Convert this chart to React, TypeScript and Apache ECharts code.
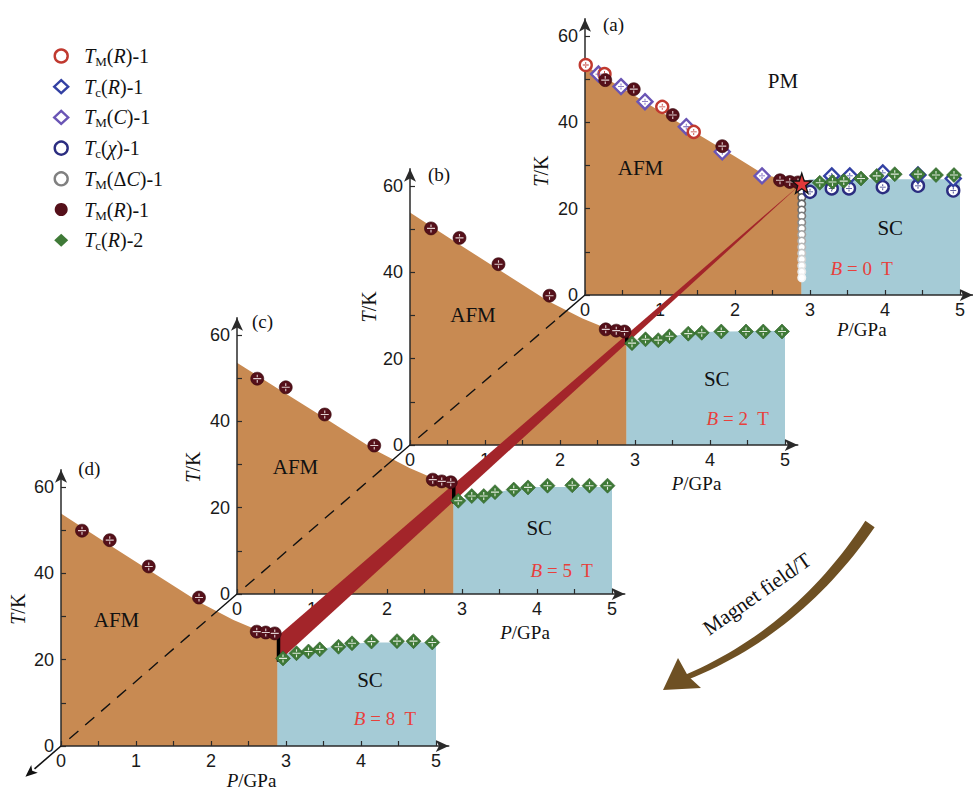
import React, { useEffect, useRef } from 'react';
import * as echarts from 'echarts';

// ---------------- axis ticks ----------------
const xTickValues = [0, 0.5, 1, 1.5, 2, 2.5, 3, 3.5, 4, 4.5, 5];
const xLabelValues = [0, 1, 2, 3, 4, 5];
const yTickValues = [0, 10, 20, 30, 40, 50, 60];
const yLabelValues = [0, 20, 40, 60];

const panelTags = ['(a)', '(b)', '(c)', '(d)'];
const fieldValues = [0, 2, 5, 8];

// ---------------- phase regions ----------------
const afmA = [[0, 53.2], [0.5, 47.9], [1, 42.6], [1.5, 37.3], [2, 32.1], [2.36, 28.2], [2.6, 26.9], [2.89, 25.9]];
const afmB = [[0, 53.9], [0.6, 47.1], [1.17, 40.8], [1.84, 33.4], [2.3, 29.3], [2.61, 27.1], [2.89, 26.2]];
const afmC = [[0, 53.6], [0.6, 47.0], [1.17, 40.8], [1.84, 33.4], [2.3, 29.2], [2.61, 26.9], [2.89, 25.8]];
const afmD = [[0, 53.9], [0.6, 47.1], [1.17, 40.8], [1.84, 33.4], [2.3, 29.2], [2.61, 26.9], [2.89, 25.4]];

const scA = [[2.885, 26.2], [3.0, 26.8], [5, 26.8]];
const scB = [[2.885, 23.5], [3.1, 24.2], [3.5, 25.2], [3.8, 26.2], [5, 26.5]];
const scC = [[2.885, 21.5], [3.0, 22.0], [3.4, 23.2], [3.64, 24.2], [3.9, 24.8], [5, 24.8]];
const scD = [[2.885, 21.0], [3.1, 21.8], [3.5, 22.6], [3.8, 23.5], [4.1, 24.0], [5, 24.0]];

// ---------------- panel (a) data, B = 0 T ----------------
const tmROpenA = [[0.01, 53.3], [0.26, 51.2], [1.03, 43.6], [1.45, 37.8]];
const tcRA = [[3.29, 27.6], [3.53, 27.6], [3.97, 28.3], [4.44, 27.8], [4.91, 27.0]];
const tmCA = [[0.18, 51.2], [0.48, 48.3], [0.8, 44.8], [1.35, 39.0], [1.83, 33.2], [2.36, 27.6]];
const tcChiA = [[3.0, 23.9], [3.29, 24.7], [3.52, 24.7], [3.97, 25.0], [4.44, 25.3], [4.91, 24.2]];
const tmDCA = [[2.89, 24.0], [2.89, 22.6], [2.89, 21.1], [2.89, 19.7], [2.89, 18.3], [2.89, 16.8], [2.89, 15.4],
  [2.89, 14.0], [2.89, 12.5], [2.89, 11.1], [2.89, 9.7], [2.89, 8.3], [2.89, 6.8], [2.89, 5.4], [2.89, 4.0]];
const tmRFilledA = [[0.27, 49.8], [0.65, 47.7], [1.17, 41.7], [1.83, 34.5], [2.6, 26.6], [2.73, 26.2], [2.84, 26.1]];
const tcR2A = [[3.13, 26.0], [3.3, 26.2], [3.45, 26.4], [3.68, 27.0], [3.89, 27.6], [4.13, 28.0], [4.44, 28.0], [4.68, 27.8], [4.92, 27.8]];
const starA = [[2.89, 25.9]];

// ---------------- panels (b)-(d) ----------------
const tmRFilledB = [[0.28, 50.2], [0.66, 48.0], [1.18, 41.9], [1.86, 34.6], [2.61, 26.8], [2.75, 26.5], [2.86, 26.3]];
const tcR2B = [[2.96, 23.6], [3.14, 24.5], [3.31, 24.3], [3.46, 25.2], [3.71, 25.8], [3.89, 26.0], [4.15, 26.3], [4.48, 26.3], [4.71, 26.3], [4.96, 26.3]];
const tmRFilledC = [[0.27, 49.9], [0.65, 47.9], [1.17, 41.6], [1.83, 34.4], [2.61, 26.5], [2.73, 26.1], [2.85, 25.9]];
const tcR2C = [[2.95, 21.6], [3.13, 22.7], [3.29, 22.7], [3.44, 23.6], [3.69, 24.2], [3.88, 24.7], [4.14, 25.1], [4.47, 25.2], [4.7, 25.1], [4.94, 25.1]];
const tmRFilledD = [[0.28, 49.9], [0.65, 47.7], [1.17, 41.6], [1.84, 34.4], [2.61, 26.5], [2.73, 26.3], [2.85, 26.1]];
const tcR2D = [[2.96, 20.3], [3.14, 21.5], [3.3, 21.9], [3.45, 22.4], [3.7, 23.0], [3.88, 23.8], [4.14, 24.2], [4.48, 24.3], [4.7, 24.3], [4.95, 24.0]];

// transition width bars
const barB = [[2.89, 23.3], [2.89, 25.8]];
const barC = [[2.89, 21.0], [2.89, 25.0]];
const barD = [[2.9, 19.5], [2.9, 25.4]];

// red band: apex in (a), two ends in (d)
const bandApexA = [2.89, 25.9];
const bandTopD = [2.9, 25.6];
const bandBottomD = [2.9, 19.6];

// label anchors (data coordinates of each panel)
const tagAt = [[0.24, 62.6], [0.24, 62.6], [0.2, 63.2], [0.23, 64.4]];
const afmLabelAt = [[0.74, 29.5], [0.84, 30.1], [0.78, 29.5], [0.74, 29.2]];
const scLabelAt = [[4.07, 15.5], [4.09, 15.4], [4.03, 15.3], [4.12, 15.3]];
const fieldLabelAt = [[3.69, 6.2], [4.37, 6.2], [4.33, 5.4], [4.32, 6.3]];
const pmLabelAt = [2.64, 49.5];
const yNameAt = [[-0.59, 28.7], [-0.55, 32.0], [-0.59, 29.4], [-0.57, 31.7]];
const xNameAt = [[3.69, -7.9], [3.82, -8.9], [3.84, -9.0], [2.54, -7.9]];

// ---------------- layout / style ----------------
const PX_PER_GPA = 75;
const PX_PER_K = 4.315;
const X_MAX = 5.17;
const Y_MAX = 64;
const gridLeft = [585, 410, 237, 61];
const gridBase = [295, 445, 594, 746];

const SERIF = "'Liberation Serif', 'Times New Roman', serif";
const SANS = "'Liberation Sans', Arial, sans-serif";

const C = {
  afm: '#c88a52',
  sc: '#a5cbd6',
  band: '#a3252a',
  axis: '#2a2a2a',
  tmROpen: '#c0392f',
  tcR: '#3341a3',
  tmC: '#6a55b5',
  tcChi: '#2b2d80',
  tmDC: '#808080',
  tmRFilled: '#55101a',
  tcR2: '#3f7a37',
  red: '#e8403c',
  arrow: '#6e5023',
};

const PM_PATH = 'path://M0,4.3h10v1.4h-10z M4.3,0h1.4v3.3h-1.4z M4.3,6.7h1.4v3.3h-1.4z';
const STAR_PATH = 'path://M50,0 L61.8,35.1 L97.6,34.5 L69,56.7 L79.4,90.5 L50,70 L20.6,90.5 L31,56.7 L2.4,34.5 L38.2,35.1 Z';

const N_TMR1 = 'TM(R)-1';
const N_TCR1 = 'Tc(R)-1';
const N_TMC1 = 'TM(C)-1';
const N_TCX1 = 'Tc(χ)-1';
const N_TMDC1 = 'TM(ΔC)-1';
const N_TMR1F = 'TM(R)-1 ';
const N_TCR2 = 'Tc(R)-2';

const legendText: Record<string, string> = {
  [N_TMR1]: '{i|T}{s|M}{r|(}{i|R}{r|)-1}',
  [N_TCR1]: '{i|T}{s|c}{r|(}{i|R}{r|)-1}',
  [N_TMC1]: '{i|T}{s|M}{r|(}{i|C}{r|)-1}',
  [N_TCX1]: '{i|T}{s|c}{r|(}{i|χ}{r|)-1}',
  [N_TMDC1]: '{i|T}{s|M}{r|(Δ}{i|C}{r|)-1}',
  [N_TMR1F]: '{i|T}{s|M}{r|(}{i|R}{r|)-1}',
  [N_TCR2]: '{i|T}{s|c}{r|(}{i|R}{r|)-2}',
};

function scatter(name: string, g: number, data: any[], symbol: string, size: number, itemStyle: any, z = 6) {
  return {
    type: 'scatter', name, xAxisIndex: g, yAxisIndex: g, data, symbol, symbolSize: size,
    itemStyle: { opacity: 1, ...itemStyle }, z, silent: true,
  };
}
function marks(g: number, data: any[], size: number, color: string, z = 7) {
  return {
    type: 'scatter', name: 'mark', xAxisIndex: g, yAxisIndex: g, data, symbol: PM_PATH, symbolSize: size,
    itemStyle: { color, opacity: 1 }, z, silent: true,
  };
}
function area(g: number, data: any[], color: string) {
  return {
    type: 'line', name: 'region', xAxisIndex: g, yAxisIndex: g, data, symbol: 'none', silent: true,
    lineStyle: { width: 0 }, itemStyle: { color }, areaStyle: { color, opacity: 1 }, z: 1,
  };
}

function grayFor(t: number) {
  const f = Math.max(0, Math.min(1, (24 - t) / 20));
  const v = Math.round(78 + f * 165);
  return `rgb(${v},${v},${v})`;
}

function buildOption(): any {
  const afm = [afmA, afmB, afmC, afmD];
  const sc = [scA, scB, scC, scD];
  const filled = [tmRFilledA, tmRFilledB, tmRFilledC, tmRFilledD];
  const green = [tcR2A, tcR2B, tcR2C, tcR2D];
  const bars = [null, barB, barC, barD];

  const grid = gridLeft.map((l, i) => ({
    left: l, top: gridBase[i] - Y_MAX * PX_PER_K, width: X_MAX * PX_PER_GPA, height: Y_MAX * PX_PER_K,
    containLabel: false, outerBoundsMode: 'none',
  }));
  const axisLine = { show: true, onZero: true, symbol: ['none', 'arrow'], symbolSize: [9, 13], lineStyle: { color: C.axis, width: 1.5 } };
  const xAxis = gridLeft.map((_, i) => ({
    type: 'value', gridIndex: i, min: 0, max: X_MAX, z: 3,
    axisLine,
    axisTick: { show: true, inside: true, length: 5, customValues: xTickValues, lineStyle: { color: C.axis, width: 1.2 } },
    axisLabel: { show: true, customValues: xLabelValues, margin: 6, color: '#1a1a1a', fontFamily: SANS, fontSize: 18 },
    splitLine: { show: false },
  }));
  const yAxis = gridLeft.map((_, i) => ({
    type: 'value', gridIndex: i, min: 0, max: Y_MAX, z: 3,
    axisLine,
    axisTick: { show: true, inside: true, length: 5, customValues: yTickValues, lineStyle: { color: C.axis, width: 1.2 } },
    axisLabel: { show: true, customValues: yLabelValues, margin: 7, color: '#1a1a1a', fontFamily: SANS, fontSize: 18 },
    splitLine: { show: false },
  }));

  const series: any[] = [];
  for (let g = 0; g < 4; g++) {
    series.push(area(g, afm[g], C.afm));
    series.push(area(g, sc[g], C.sc));
  }
  // panel (a) open markers
  const open = (color: string) => ({ color: '#fff', borderColor: color, borderWidth: 2.4 });
  series.push(scatter(N_TMDC1, 0, tmDCA.map((p) => ({ value: p, itemStyle: { borderColor: grayFor(p[1]) } })), 'circle', 7.5,
    { color: '#fff', borderColor: C.tmDC, borderWidth: 1.6 }, 5));
  series.push(scatter(N_TCX1, 0, tcChiA, 'circle', 12, open(C.tcChi)));
  series.push(marks(0, tcChiA, 6, C.tcChi));
  series.push(scatter(N_TCR1, 0, tcRA, 'diamond', 15, open(C.tcR)));
  series.push(marks(0, tcRA, 6, C.tcR));
  series.push(scatter(N_TMC1, 0, tmCA, 'diamond', 15, open(C.tmC)));
  series.push(marks(0, tmCA, 6, C.tmC));
  series.push(scatter(N_TMR1, 0, tmROpenA, 'circle', 12, open(C.tmROpen)));
  series.push(marks(0, tmROpenA, 6, C.tmROpen));

  for (let g = 0; g < 4; g++) {
    series.push(scatter(N_TMR1F, g, filled[g], 'circle', 13, { color: C.tmRFilled, borderColor: '#34050a', borderWidth: 0.6 }, 8));
    series.push(marks(g, filled[g], 8, '#e0cfd0', 9));
    series.push(scatter(N_TCR2, g, green[g], 'diamond', 15, { color: C.tcR2, borderColor: '#2e5e29', borderWidth: 0.6 }, 8));
    series.push(marks(g, green[g], 8, '#e3ecdf', 9));
    const b = bars[g];
    if (b) {
      series.push({
        type: 'line', name: 'bar', xAxisIndex: g, yAxisIndex: g, data: b, symbol: 'none', silent: true,
        lineStyle: { color: '#000', width: 3.5, cap: 'butt' }, itemStyle: { color: '#000' }, z: 7,
      });
    }
  }
  series.push(scatter('star', 0, starA, STAR_PATH, 20, { color: '#e0393a', borderColor: '#111', borderWidth: 1.3 }, 10));

  const legendItem = (name: string, icon: string, itemStyle: any) => ({ name, icon, itemStyle });
  const legend = {
    orient: 'vertical', left: 48, top: 41, itemWidth: 14, itemHeight: 13, itemGap: 8.7,
    selectedMode: false,
    formatter: (n: string) => legendText[n] || n,
    textStyle: {
      padding: [0, 0, 0, 11],
      rich: {
        i: { fontFamily: SERIF, fontStyle: 'italic', fontSize: 20, lineHeight: 24, color: '#111' },
        r: { fontFamily: SERIF, fontSize: 20, lineHeight: 24, color: '#111' },
        s: { fontFamily: SERIF, fontSize: 13, lineHeight: 11, verticalAlign: 'bottom', color: '#111' },
      },
    },
    data: [
      legendItem(N_TMR1, 'circle', { color: '#fff', borderColor: C.tmROpen, borderWidth: 2.4 }),
      legendItem(N_TCR1, 'diamond', { color: '#fff', borderColor: C.tcR, borderWidth: 2.4 }),
      legendItem(N_TMC1, 'diamond', { color: '#fff', borderColor: C.tmC, borderWidth: 2.4 }),
      legendItem(N_TCX1, 'circle', { color: '#fff', borderColor: C.tcChi, borderWidth: 2.4 }),
      legendItem(N_TMDC1, 'circle', { color: '#fff', borderColor: C.tmDC, borderWidth: 2.4 }),
      legendItem(N_TMR1F, 'circle', { color: C.tmRFilled, borderWidth: 0 }),
      legendItem(N_TCR2, 'diamond', { color: C.tcR2, borderWidth: 0 }),
    ],
  };

  return { animation: false, backgroundColor: '#fff', grid, xAxis, yAxis, series, legend };
}

function richZ(size: number, color: string) {
  return {
    i: { fontFamily: SERIF, fontStyle: 'italic', fontSize: size, fill: color },
    r: { fontFamily: SERIF, fontSize: size, fill: color },
  };
}

function buildGraphics(chart: any): any[] {
  const pt = (g: number, v: number[]) => chart.convertToPixel({ gridIndex: g }, v) as number[];
  const els: any[] = [];
  const text = (x: number, y: number, t: string, size: number, color = '#111', align = 'center', rotation = 0) => ({
    type: 'text', x, y, rotation, z: 9, silent: true,
    style: { text: t, rich: richZ(size, color), fontFamily: SERIF, fontSize: size, fill: color, align, verticalAlign: 'middle' },
  });

  // red band
  const apex = pt(0, bandApexA);
  const top = pt(3, bandTopD);
  const bot = pt(3, bandBottomD);
  els.push({ type: 'polygon', z: 4, silent: true, shape: { points: [apex, top, bot] }, style: { fill: C.band } });

  // dashed field axis through the panel origins
  const O = [0, 1, 2, 3].map((g) => pt(g, [0, 0]));
  for (let k = 3; k >= 1; k--) {
    const L = O[k];
    const U = O[k - 1];
    const dx = U[0] - L[0];
    const dy = U[1] - L[1];
    const len = Math.hypot(dx, dy);
    const ux = dx / len;
    const uy = dy / len;
    const stub = 34;
    els.push({
      type: 'line', z: 3.5, silent: true,
      shape: { x1: L[0] + ux * 11, y1: L[1] + uy * 11, x2: U[0] - ux * stub, y2: U[1] - uy * stub },
      style: { stroke: '#111', lineWidth: 1.4, lineDash: [12, 9] },
    });
    els.push({
      type: 'line', z: 3.5, silent: true,
      shape: { x1: U[0] - ux * stub, y1: U[1] - uy * stub, x2: U[0], y2: U[1] },
      style: { stroke: '#111', lineWidth: 1.4 },
    });
    if (k === 3) {
      const tipX = L[0] - ux * 47;
      const tipY = L[1] - uy * 47;
      const bx = L[0] - ux * 35;
      const by = L[1] - uy * 35;
      els.push({ type: 'line', z: 3.5, silent: true, shape: { x1: L[0], y1: L[1], x2: bx, y2: by }, style: { stroke: '#111', lineWidth: 1.6 } });
      els.push({
        type: 'polygon', z: 3.5, silent: true,
        shape: { points: [[tipX, tipY], [bx - uy * 5, by + ux * 5], [L[0] - ux * 38, L[1] - uy * 38], [bx + uy * 5, by - ux * 5]] },
        style: { fill: '#111' },
      });
    }
  }

  // texts in each panel
  for (let g = 0; g < 4; g++) {
    const tg = pt(g, tagAt[g]);
    els.push(text(tg[0], tg[1], panelTags[g], 19, '#111', 'left'));
    const a = pt(g, afmLabelAt[g]);
    els.push(text(a[0], a[1], 'AFM', 21));
    const s = pt(g, scLabelAt[g]);
    els.push(text(s[0], s[1], 'SC', 21));
    const f = pt(g, fieldLabelAt[g]);
    els.push(text(f[0], f[1], `{i|B}{r| = ${fieldValues[g]}  T}`, 19, C.red));
    const yn = pt(g, yNameAt[g]);
    els.push(text(yn[0], yn[1], '{i|T}{r|/K}', 20, '#111', 'center', Math.PI / 2));
    const xn = pt(g, xNameAt[g]);
    els.push(text(xn[0], xn[1], '{i|P}{r|/GPa}', 19));
  }
  const pm = pt(0, pmLabelAt);
  els.push(text(pm[0], pm[1], 'PM', 21));

  // curved "Magnet field" arrow
  const P0 = [870, 524];
  const Cp = [798, 631];
  const P2 = [687, 677];
  const left: number[][] = [];
  const right: number[][] = [];
  const N = 30;
  for (let i = 0; i <= N; i++) {
    const t = i / N;
    const x = (1 - t) * (1 - t) * P0[0] + 2 * (1 - t) * t * Cp[0] + t * t * P2[0];
    const y = (1 - t) * (1 - t) * P0[1] + 2 * (1 - t) * t * Cp[1] + t * t * P2[1];
    const tx = 2 * (1 - t) * (Cp[0] - P0[0]) + 2 * t * (P2[0] - Cp[0]);
    const ty = 2 * (1 - t) * (Cp[1] - P0[1]) + 2 * t * (P2[1] - Cp[1]);
    const l = Math.hypot(tx, ty);
    const nx = -ty / l;
    const ny = tx / l;
    const w = 5.6 - 2.8 * t;
    left.push([x + nx * w, y + ny * w]);
    right.push([x - nx * w, y - ny * w]);
  }
  els.push({ type: 'polygon', z: 5, silent: true, shape: { points: left.concat(right.reverse()) }, style: { fill: C.arrow } });
  els.push({
    type: 'polygon', z: 5, silent: true,
    shape: { points: [[663, 690], [678, 658], [688, 676], [701, 688]] },
    style: { fill: C.arrow },
  });
  els.push(text(757, 594, 'Magnet field/T', 21, '#111', 'center', (35 * Math.PI) / 180));

  return els;
}

export default function App() {
  const ref = useRef<HTMLDivElement>(null);
  useEffect(() => {
    if (!ref.current) return;
    const chart = echarts.init(ref.current, null, { renderer: 'svg' });
    chart.setOption(buildOption());
    chart.setOption({ graphic: { elements: buildGraphics(chart) } });
    return () => chart.dispose();
  }, []);
  return (
    <div
      ref={ref}
      style={{ position: 'absolute', left: 0, top: 0, width: 973, height: 791, background: '#fff' }}
    />
  );
}
